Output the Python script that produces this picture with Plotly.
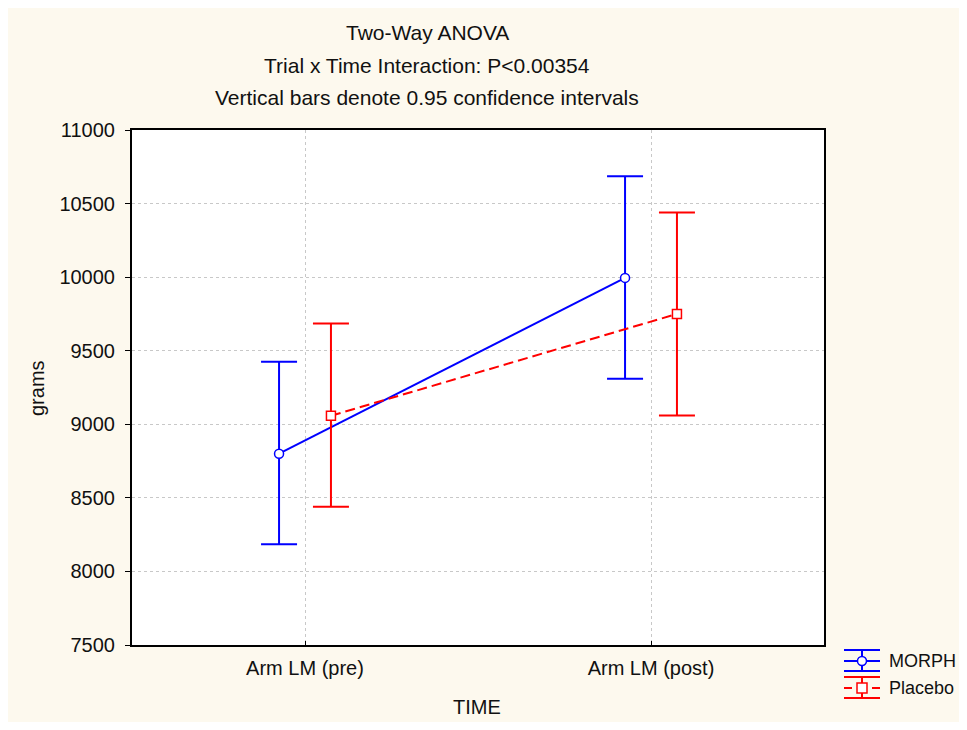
import plotly.graph_objects as go

categories = ["Arm LM (pre)", "Arm LM (post)"]
cat_pos = [0, 1]
morph_mean = [8800, 9995]
morph_low = [8185, 9310]
morph_high = [9425, 10685]
placebo_mean = [9058, 9750]
placebo_low = [8440, 9060]
placebo_high = [9685, 10440]
y_ticks = [7500, 8000, 8500, 9000, 9500, 10000, 10500, 11000]

offset = 0.075
BLUE = "#0000FF"
RED = "#FF0000"
FONT = "Liberation Sans, Arial, sans-serif"
TXT = "#111111"

fig = go.Figure()

fig.add_trace(go.Scatter(
    x=[p - offset for p in cat_pos], y=morph_mean, mode="lines+markers", name="MORPH",
    line=dict(color=BLUE, width=2),
    marker=dict(symbol="circle", size=9, color="white", line=dict(color=BLUE, width=1.5)),
    error_y=dict(type="data", symmetric=False,
                 array=[h - m for h, m in zip(morph_high, morph_mean)],
                 arrayminus=[m - l for m, l in zip(morph_mean, morph_low)],
                 color=BLUE, thickness=2, width=18),
    showlegend=False,
))
fig.add_trace(go.Scatter(
    x=[p + offset for p in cat_pos], y=placebo_mean, mode="lines+markers", name="Placebo",
    line=dict(color=RED, width=2, dash="10px,5px"),
    marker=dict(symbol="square", size=9, color="white", line=dict(color=RED, width=1.5)),
    error_y=dict(type="data", symmetric=False,
                 array=[h - m for h, m in zip(placebo_high, placebo_mean)],
                 arrayminus=[m - l for m, l in zip(placebo_mean, placebo_low)],
                 color=RED, thickness=2, width=18),
    showlegend=False,
))

# page has an 8px body margin; figure sized so the page does not scroll
OFF = 8
W, H = 967 - 2 * OFF, 730 - 2 * OFF
PL, PR, PT, PB = 132, 824, 130, 645  # plot area in page pixels
L, R, T, B = PL - OFF, W - (PR - OFF), PT - OFF, H - (PB - OFF)
pw, ph = PR - PL, PB - PT

def px(x):
    return (x - PL) / pw

def py(y):
    return (PB - y) / ph

annotations = []
for txt, yy in [("Two-Way ANOVA", 33), ("Trial x Time Interaction: P<0.00354", 65),
                ("Vertical bars denote 0.95 confidence intervals", 97)]:
    annotations.append(dict(text=txt, x=px(427), y=py(yy), xref="paper", yref="paper",
                            showarrow=False, font=dict(size=21, color=TXT, family=FONT),
                            xanchor="center", yanchor="middle"))
annotations.append(dict(text="grams", x=px(37), y=py(388), xref="paper", yref="paper",
                        showarrow=False, textangle=-90,
                        font=dict(size=20, color=TXT, family=FONT),
                        xanchor="center", yanchor="middle"))
annotations.append(dict(text="TIME", x=px(477), y=py(707), xref="paper", yref="paper",
                        showarrow=False, font=dict(size=20, color=TXT, family=FONT),
                        xanchor="center", yanchor="middle"))
for txt, yy in [("MORPH", 661), ("Placebo", 688)]:
    annotations.append(dict(text=txt, x=px(887), y=py(yy), xref="paper", yref="paper",
                            showarrow=False, font=dict(size=18, color=TXT, family=FONT),
                            xanchor="left", yanchor="middle"))

shapes = []
def hline(x0, x1, y, color, dash="solid"):
    shapes.append(dict(type="line", xref="paper", yref="paper", x0=px(x0), x1=px(x1),
                       y0=py(y), y1=py(y), line=dict(color=color, width=2, dash=dash)))
def vline(x, y0, y1, color):
    shapes.append(dict(type="line", xref="paper", yref="paper", x0=px(x), x1=px(x),
                       y0=py(y0), y1=py(y1), line=dict(color=color, width=2)))

# MORPH legend symbol
hline(844, 880, 650, BLUE); hline(844, 880, 671, BLUE); hline(844, 880, 661, BLUE)
vline(862, 650, 671, BLUE)
shapes.append(dict(type="circle", xref="paper", yref="paper", x0=px(857.5), x1=px(866.5),
                   y0=py(656.5), y1=py(665.5), fillcolor="white", line=dict(color=BLUE, width=1.5)))
# Placebo legend symbol
hline(844, 880, 677, RED); hline(844, 880, 698, RED)
hline(844, 852, 688, RED); hline(872, 880, 688, RED)
vline(862, 677, 698, RED)
shapes.append(dict(type="rect", xref="paper", yref="paper", x0=px(857), x1=px(867),
                   y0=py(683), y1=py(693), fillcolor="white", line=dict(color=RED, width=1.5)))

fig.update_layout(
    width=W, height=H,
    margin=dict(l=L, r=R, t=T, b=B, pad=0),
    paper_bgcolor="#FDF9EE",
    plot_bgcolor="white",
    font=dict(family=FONT, size=20, color=TXT),
    annotations=annotations,
    shapes=shapes,
    showlegend=False,
    xaxis=dict(range=[-0.5, 1.5], tickvals=cat_pos, ticktext=categories,
               showgrid=True, gridcolor="#C8C8C8", griddash="3px,3px", gridwidth=1,
               showline=True, mirror=True, linecolor="black", linewidth=2,
               ticks="inside", ticklen=4, tickcolor="black", zeroline=False,
               tickfont=dict(size=20, family=FONT, color=TXT), ticklabelstandoff=4),
    yaxis=dict(range=[7500, 11000], tickvals=y_ticks, ticktext=[str(v) for v in y_ticks],
               showgrid=True, gridcolor="#C8C8C8", griddash="3px,3px", gridwidth=1,
               showline=True, mirror=True, linecolor="black", linewidth=2,
               ticks="outside", ticklen=5, tickcolor="black", zeroline=False,
               tickfont=dict(size=20, family=FONT, color=TXT), ticklabelstandoff=6),
)

fig.write_html("out.html")
